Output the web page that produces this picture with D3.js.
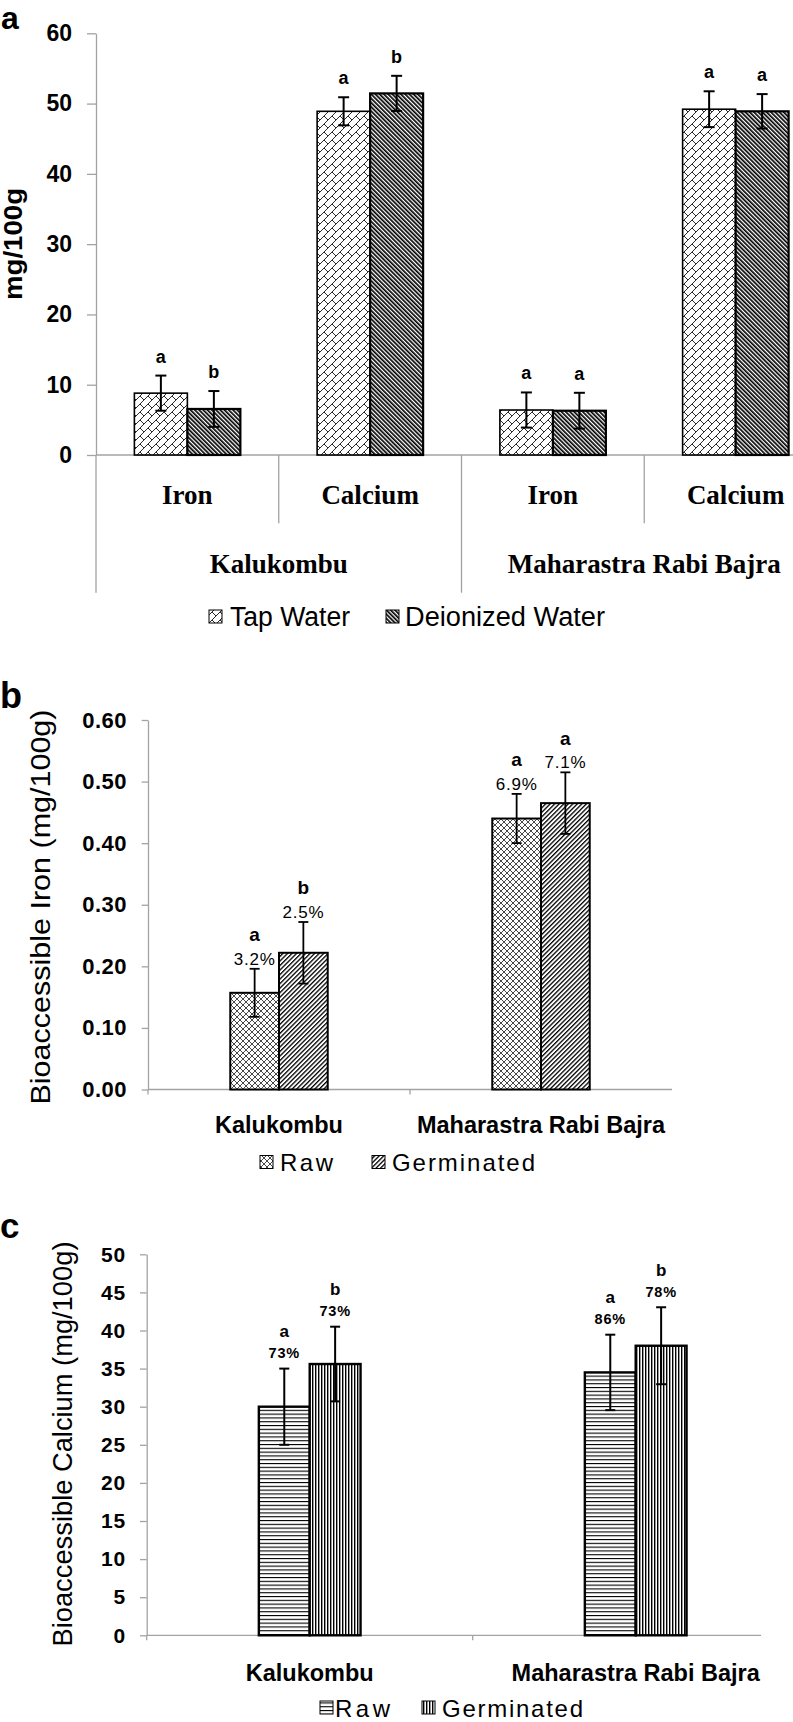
<!DOCTYPE html>
<html><head><meta charset="utf-8">
<script src="https://cdn.jsdelivr.net/npm/d3@7"></script>
<style>
body{margin:0;background:#fff}
svg{display:block}
text{font-family:"Liberation Sans",Arial,sans-serif;fill:#000}
</style>
</head><body>
<svg id="chart" width="793" height="1722"></svg>
<script>
// ---------- Panel a data ----------
const aNutrients = ["Iron", "Calcium", "Iron", "Calcium"];
const aVarieties = ["Kalukombu", "Maharastra Rabi Bajra"];
const aSeries = ["Tap Water", "Deionized Water"];
const aTap = [8.8, 48.9, 6.4, 49.2];
const aTapErr = [2.5, 2.0, 2.5, 2.55];
const aDeion = [6.55, 51.45, 6.3, 48.9];
const aDeionErr = [2.55, 2.5, 2.55, 2.45];
const aTapSig = ["a", "a", "a", "a"];
const aDeionSig = ["b", "b", "a", "a"];
const aTicks = [0, 10, 20, 30, 40, 50, 60];

// ---------- Panel b data ----------
const bCategories = ["Kalukombu", "Maharastra Rabi Bajra"];
const bSeries = ["Raw", "Germinated"];
const bRaw = [0.157, 0.44];
const bRawErr = [0.039, 0.04];
const bGerm = [0.222, 0.465];
const bGermErr = [0.05, 0.05];
const bRawSig = ["a", "a"];
const bGermSig = ["b", "a"];
const bRawPct = ["3.2%", "6.9%"];
const bGermPct = ["2.5%", "7.1%"];
const bTicks = [0, 0.1, 0.2, 0.3, 0.4, 0.5, 0.6];

// ---------- Panel c data ----------
const cCategories = ["Kalukombu", "Maharastra Rabi Bajra"];
const cSeries = ["Raw", "Germinated"];
const cRaw = [30.0, 34.5];
const cRawErr = [5.0, 4.95];
const cGerm = [35.6, 38.0];
const cGermErr = [4.9, 5.05];
const cRawSig = ["a", "a"];
const cGermSig = ["b", "b"];
const cRawPct = ["73%", "86%"];
const cGermPct = ["73%", "78%"];
const cTicks = [0, 5, 10, 15, 20, 25, 30, 35, 40, 45, 50];

const AXIS = "#a3a3a3";
const svg = d3.select("#chart");
svg.append("rect").attr("width", 793).attr("height", 1722).attr("fill", "#fff");
const defs = svg.append("defs");

function stripePattern(id, period, black, angle, color) {
  const p = defs.append("pattern").attr("id", id).attr("patternUnits", "userSpaceOnUse")
    .attr("width", period).attr("height", period)
    .attr("patternTransform", `rotate(${angle})`);
  p.append("rect").attr("width", period).attr("height", period).attr("fill", "#fff");
  p.append("rect").attr("width", black).attr("height", period).attr("fill", color || "#000");
}
// diagonal brick (Tap Water)
{
  const p = defs.append("pattern").attr("id", "brick").attr("patternUnits", "userSpaceOnUse")
    .attr("width", 8).attr("height", 8);
  p.append("rect").attr("width", 8).attr("height", 8).attr("fill", "#fff");
  p.append("path").attr("d", "M0,8L8,0M-1,1L1,-1M7,9L9,7M4,4L8,8")
    .attr("stroke", "#2a2a2a").attr("stroke-width", 1).attr("fill", "none");
}
stripePattern("dndiag", 3, 1.7, -45);
// crosshatch (Raw, b)
{
  const p = defs.append("pattern").attr("id", "cross").attr("patternUnits", "userSpaceOnUse")
    .attr("width", 6).attr("height", 6);
  p.append("rect").attr("width", 6).attr("height", 6).attr("fill", "#fff");
  p.append("path").attr("d", "M0,0L6,6M6,0L0,6")
    .attr("stroke", "#333").attr("stroke-width", 0.9).attr("fill", "none");
}
stripePattern("updiag", 3.2, 1.3, 45);
// horizontal lines (Raw, c)
{
  const p = defs.append("pattern").attr("id", "horiz").attr("patternUnits", "userSpaceOnUse")
    .attr("width", 4).attr("height", 3.8);
  p.append("rect").attr("width", 4).attr("height", 3.8).attr("fill", "#fff");
  p.append("rect").attr("width", 4).attr("height", 1.1).attr("fill", "#000");
}
// vertical lines (Germinated, c)
{
  const p = defs.append("pattern").attr("id", "vert").attr("patternUnits", "userSpaceOnUse")
    .attr("width", 3).attr("height", 4);
  p.append("rect").attr("width", 3).attr("height", 4).attr("fill", "#fff");
  p.append("rect").attr("width", 1.4).attr("height", 4).attr("fill", "#000");
}

function errBar(g, x, y0, y1, cap, w) {
  g.append("line").attr("x1", x).attr("x2", x).attr("y1", y0).attr("y2", y1)
    .attr("stroke", "#000").attr("stroke-width", w);
  [y0, y1].forEach(yy => g.append("line").attr("x1", x - cap / 2).attr("x2", x + cap / 2)
    .attr("y1", yy).attr("y2", yy).attr("stroke", "#000").attr("stroke-width", w));
}
function styleAxis(g, fs, weight, ls) {
  g.select(".domain").attr("stroke", AXIS).attr("stroke-width", 1.3);
  g.selectAll(".tick line").attr("stroke", AXIS).attr("stroke-width", 1.3);
  g.selectAll(".tick text").attr("font-size", fs).attr("font-weight", weight)
    .attr("font-family", "'Liberation Sans',Arial,sans-serif").attr("fill", "#000")
    .attr("letter-spacing", ls || 0);
}

// ================= Panel a =================
{
  const g = svg.append("g");
  const y = d3.scaleLinear().domain([0, 60]).range([455, 33.3]);
  const x = d3.scaleBand().domain(d3.range(aNutrients.length)).range([96, 827]);
  const bw = x.bandwidth() * 0.29;

  g.append("text").text("a").attr("x", 1).attr("y", 29).attr("font-size", 32).attr("font-weight", "bold");

  const ya = g.append("g").attr("transform", "translate(96,0)")
    .call(d3.axisLeft(y).tickValues(aTicks).tickSize(9).tickSizeOuter(0).tickPadding(15).tickFormat(d3.format("d")));
  styleAxis(ya, 23, "bold");

  g.append("text").text("mg/100g").attr("transform", "translate(13,244) rotate(-90)")
    .attr("text-anchor", "middle").attr("dominant-baseline", "central")
    .attr("font-size", 25).attr("font-weight", "bold")
    .attr("textLength", 112).attr("lengthAdjust", "spacingAndGlyphs");

  // x axis line
  g.append("line").attr("x1", 96).attr("x2", 827).attr("y1", y(0)).attr("y2", y(0))
    .attr("stroke", AXIS).attr("stroke-width", 1.3);
  // separators
  d3.range(aNutrients.length + 1).forEach(i => {
    const xx = i < aNutrients.length ? x(i) : x(aNutrients.length - 1) + x.bandwidth();
    const outer = i % 2 === 0;
    g.append("line").attr("x1", xx).attr("x2", xx).attr("y1", y(0)).attr("y2", outer ? 592.7 : 523.3)
      .attr("stroke", AXIS).attr("stroke-width", 1.3);
  });

  aNutrients.forEach((n, i) => {
    const cx = x(i) + x.bandwidth() / 2;
    const series = [
      { v: aTap[i], e: aTapErr[i], s: aTapSig[i], fill: "url(#brick)", x0: cx - bw, sw: 1.6 },
      { v: aDeion[i], e: aDeionErr[i], s: aDeionSig[i], fill: "url(#dndiag)", x0: cx, sw: 2.2 }
    ];
    series.forEach(d => {
      g.append("rect").attr("x", d.x0).attr("y", y(d.v)).attr("width", bw).attr("height", y(0) - y(d.v))
        .attr("fill", d.fill).attr("stroke", "#000").attr("stroke-width", d.sw);
      const bx = d.x0 + bw / 2;
      errBar(g, bx, y(d.v + d.e), y(d.v - d.e), 11, 2);
      g.append("text").text(d.s).attr("x", bx).attr("y", y(d.v + d.e) - 19)
        .attr("text-anchor", "middle").attr("dominant-baseline", "central")
        .attr("font-size", 18).attr("font-weight", "bold");
    });
    g.append("text").text(n).attr("x", cx).attr("y", 495).attr("text-anchor", "middle")
      .attr("dominant-baseline", "central")
      .style("font-family", "'Liberation Serif','Times New Roman',serif")
      .attr("font-size", 27).attr("font-weight", "bold");
  });
  aVarieties.forEach((v, k) => {
    const cx = x(k * 2) + x.bandwidth();
    g.append("text").text(v).attr("x", cx).attr("y", 564).attr("text-anchor", "middle")
      .attr("dominant-baseline", "central")
      .style("font-family", "'Liberation Serif','Times New Roman',serif")
      .attr("font-size", 27).attr("font-weight", "bold");
  });
  // legend
  const leg = [{ t: aSeries[0], f: "url(#brick)", bx: 209, tx: 230, tl: 120 },
               { t: aSeries[1], f: "url(#dndiag)", bx: 386, tx: 405, tl: 200 }];
  leg.forEach(l => {
    g.append("rect").attr("x", l.bx).attr("y", 610).attr("width", 13).attr("height", 13)
      .attr("fill", l.f).attr("stroke", "#000").attr("stroke-width", 1);
    g.append("text").text(l.t).attr("x", l.tx).attr("y", 617).attr("dominant-baseline", "central")
      .attr("font-size", 27).attr("textLength", l.tl).attr("lengthAdjust", "spacingAndGlyphs");
  });
}

// ================= Panel b =================
{
  const g = svg.append("g");
  const y = d3.scaleLinear().domain([0, 0.6]).range([1089.5, 720]);
  const x = d3.scaleBand().domain(bCategories).range([148, 672]);
  const bw = x.bandwidth() * 0.186;

  g.append("text").text("b").attr("x", 0).attr("y", 708).attr("font-size", 36).attr("font-weight", "bold");

  const ya = g.append("g").attr("transform", "translate(148,0)")
    .call(d3.axisLeft(y).tickValues(bTicks).tickSize(6.3).tickSizeOuter(0).tickPadding(14.7).tickFormat(d3.format(".2f")));
  styleAxis(ya, 22, "bold", 0.5);

  g.append("text").text("Bioaccessible Iron (mg/100g)").attr("transform", "translate(40,907) rotate(-90)")
    .attr("text-anchor", "middle").attr("dominant-baseline", "central")
    .attr("font-size", 28).attr("textLength", 395).attr("lengthAdjust", "spacingAndGlyphs");

  g.append("line").attr("x1", 148).attr("x2", 672).attr("y1", y(0)).attr("y2", y(0))
    .attr("stroke", AXIS).attr("stroke-width", 1.3);
  bCategories.forEach(c => {
    g.append("line").attr("x1", x(c)).attr("x2", x(c)).attr("y1", y(0)).attr("y2", y(0) + 5)
      .attr("stroke", AXIS).attr("stroke-width", 1.3);
  });

  bCategories.forEach((c, i) => {
    const cx = x(c) + x.bandwidth() / 2;
    const series = [
      { v: bRaw[i], e: bRawErr[i], s: bRawSig[i], p: bRawPct[i], fill: "url(#cross)", x0: cx - bw },
      { v: bGerm[i], e: bGermErr[i], s: bGermSig[i], p: bGermPct[i], fill: "url(#updiag)", x0: cx }
    ];
    series.forEach(d => {
      g.append("rect").attr("x", d.x0).attr("y", y(d.v)).attr("width", bw).attr("height", y(0) - y(d.v))
        .attr("fill", d.fill).attr("stroke", "#000").attr("stroke-width", 2);
      const bx = d.x0 + bw / 2;
      errBar(g, bx, y(d.v + d.e), y(d.v - d.e), 10, 1.8);
      const py = y(d.v + d.e) - 9.5;
      g.append("text").text(d.p).attr("x", bx).attr("y", py).attr("text-anchor", "middle")
        .attr("dominant-baseline", "central").attr("font-size", 17).attr("letter-spacing", 0.8);
      g.append("text").text(d.s).attr("x", bx).attr("y", py - 24.5).attr("text-anchor", "middle")
        .attr("dominant-baseline", "central").attr("font-size", 19).attr("font-weight", "bold");
    });
    g.append("text").text(c).attr("x", cx).attr("y", 1125).attr("text-anchor", "middle")
      .attr("dominant-baseline", "central").attr("font-size", 23.5).attr("font-weight", "bold");
  });
  const leg = [{ t: bSeries[0], f: "url(#cross)", bx: 260, tx: 280, tl: 53 },
               { t: bSeries[1], f: "url(#updiag)", bx: 372, tx: 392, tl: 143 }];
  leg.forEach(l => {
    g.append("rect").attr("x", l.bx).attr("y", 1155.5).attr("width", 13).attr("height", 13)
      .attr("fill", l.f).attr("stroke", "#000").attr("stroke-width", 1);
    g.append("text").text(l.t).attr("x", l.tx).attr("y", 1162).attr("dominant-baseline", "central")
      .attr("font-size", 24).attr("textLength", l.tl).attr("lengthAdjust", "spacing");
  });
}

// ================= Panel c =================
{
  const g = svg.append("g");
  const y = d3.scaleLinear().domain([0, 50]).range([1635.3, 1254.3]);
  const x = d3.scaleBand().domain(cCategories).range([146.7, 798.7]);
  const bw = x.bandwidth() * 0.156;

  g.append("text").text("c").attr("x", 0).attr("y", 1238).attr("font-size", 35).attr("font-weight", "bold");

  const ya = g.append("g").attr("transform", "translate(146.7,0)")
    .call(d3.axisLeft(y).tickValues(cTicks).tickSize(6.7).tickSizeOuter(0).tickPadding(14).tickFormat(d3.format("d")));
  styleAxis(ya, 21, "bold", 0.8);

  g.append("text").text("Bioaccessible Calcium (mg/100g)").attr("transform", "translate(62,1444) rotate(-90)")
    .attr("text-anchor", "middle").attr("dominant-baseline", "central")
    .attr("font-size", 28).attr("textLength", 405).attr("lengthAdjust", "spacingAndGlyphs");

  g.append("line").attr("x1", 146.7).attr("x2", 761).attr("y1", y(0)).attr("y2", y(0))
    .attr("stroke", AXIS).attr("stroke-width", 1.3);
  cCategories.forEach(c => {
    g.append("line").attr("x1", x(c)).attr("x2", x(c)).attr("y1", y(0)).attr("y2", y(0) + 5)
      .attr("stroke", AXIS).attr("stroke-width", 1.3);
  });

  cCategories.forEach((c, i) => {
    const cx = x(c) + x.bandwidth() / 2;
    const series = [
      { v: cRaw[i], e: cRawErr[i], s: cRawSig[i], p: cRawPct[i], fill: "url(#horiz)", x0: cx - bw },
      { v: cGerm[i], e: cGermErr[i], s: cGermSig[i], p: cGermPct[i], fill: "url(#vert)", x0: cx }
    ];
    series.forEach(d => {
      g.append("rect").attr("x", d.x0).attr("y", y(d.v)).attr("width", bw).attr("height", y(0) - y(d.v))
        .attr("fill", d.fill).attr("stroke", "#000").attr("stroke-width", 2.4);
      const bx = d.x0 + bw / 2;
      errBar(g, bx, y(d.v + d.e), y(d.v - d.e), 10, 2);
      const py = y(d.v + d.e) - 15.5;
      g.append("text").text(d.p).attr("x", bx).attr("y", py).attr("text-anchor", "middle")
        .attr("dominant-baseline", "central").attr("font-size", 14.5).attr("font-weight", "bold")
        .attr("letter-spacing", 0.8);
      g.append("text").text(d.s).attr("x", bx).attr("y", py - 21.5).attr("text-anchor", "middle")
        .attr("dominant-baseline", "central").attr("font-size", 17).attr("font-weight", "bold");
    });
    g.append("text").text(c).attr("x", cx).attr("y", 1673).attr("text-anchor", "middle")
      .attr("dominant-baseline", "central").attr("font-size", 23.5).attr("font-weight", "bold");
  });
  const leg = [{ t: cSeries[0], f: "url(#horiz)", bx: 320, tx: 335, tl: 55 },
               { t: cSeries[1], f: "url(#vert)", bx: 422, tx: 442, tl: 141 }];
  leg.forEach(l => {
    g.append("rect").attr("x", l.bx).attr("y", 1701).attr("width", 13).attr("height", 13)
      .attr("fill", l.f).attr("stroke", "#000").attr("stroke-width", 1);
    g.append("text").text(l.t).attr("x", l.tx).attr("y", 1708).attr("dominant-baseline", "central")
      .attr("font-size", 24).attr("textLength", l.tl).attr("lengthAdjust", "spacing");
  });
}
</script>
</body></html>
